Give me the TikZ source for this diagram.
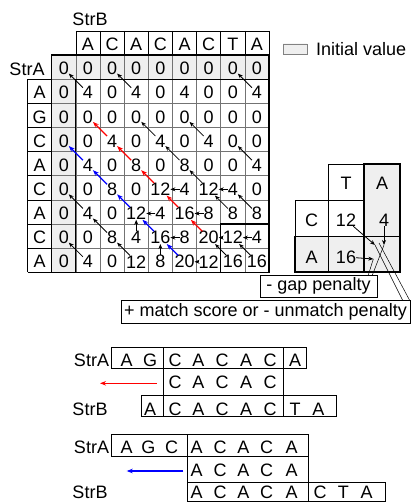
\documentclass[tikz,border=0pt]{standalone}
\usepackage{fontspec}
\setmainfont{Liberation Sans}
\usetikzlibrary{arrows.meta,patterns}
\pgfdeclarepatternformonly{fdots}{\pgfpoint{-0.5pt}{-0.5pt}}{\pgfpoint{0.5pt}{0.5pt}}{\pgfpoint{2pt}{2pt}}{\pgfpathcircle{\pgfpointorigin}{0.45pt}\pgfusepath{fill}}
\begin{document}
\begin{tikzpicture}[x=1pt,y=-1pt,font=\fontsize{18}{21}\selectfont,
  num/.style={inner sep=0pt,outer sep=0pt},
  gridl/.style={draw=black!55,line width=0.6pt},
  thinb/.style={draw=black,line width=0.6pt},
  thickb/.style={draw=black,line width=1.4pt},
  shade/.style={fill=black!3,postaction={pattern=fdots,pattern color=black!40}},
  tb/.style={-{Stealth[length=5pt,width=4pt]},line width=0.8pt},
  redar/.style={-{Stealth[length=6pt,width=4.5pt]},draw=red,line width=1.3pt},
  bluar/.style={-{Stealth[length=6pt,width=4.5pt]},draw=blue,line width=1.3pt},
  abox/.style={draw=black,line width=0.7pt},
  callout/.style={draw=black,line width=0.5pt}]
\useasboundingbox (0,0) rectangle (411,502);
\def\mX{51.7}\def\mY{55}\def\mC{24.15}
% shaded initial values
\path[shade] (\mX,\mY) rectangle ({\mX+9*\mC},{\mY+\mC});
\path[shade] (\mX,{\mY+\mC}) rectangle ({\mX+\mC},{\mY+9*\mC});
% grid
\foreach \k in {1,...,8} {
  \draw[gridl] ({\mX+\k*\mC},\mY) -- ({\mX+\k*\mC},{\mY+9*\mC});
  \draw[gridl] (\mX,{\mY+\k*\mC}) -- ({\mX+9*\mC},{\mY+\k*\mC});
}
% header cells
\foreach \k in {1,...,9} \draw[thinb] ({\mX+\k*\mC},{\mY-\mC}) -- ({\mX+\k*\mC},\mY);
\draw[thinb] ({\mX+\mC},{\mY-\mC}) -- ({\mX+9*\mC},{\mY-\mC});
% row label cells
\draw[thinb] ({\mX-\mC},{\mY+\mC}) -- ({\mX-\mC},{\mY+9*\mC});
\foreach \k in {1,...,9} \draw[thinb] ({\mX-\mC},{\mY+\k*\mC}) -- (\mX,{\mY+\k*\mC});
% borders
\draw[thinb,line width=1pt] ({\mX+\mC},{\mY+9*\mC}) -- ({\mX+\mC},{\mY+\mC}) -- ({\mX+9*\mC},{\mY+\mC});
\draw[thickb] (\mX,\mY) rectangle ({\mX+9*\mC},{\mY+9*\mC});
\draw[thickb] ({\mX+7*\mC},{\mY+7*\mC}) rectangle ({\mX+9*\mC},{\mY+9*\mC});
% labels
\node[num,anchor=base] (strb) at (90,26) {StrB};
\node[num,anchor=base] (stra) at (27,76) {StrA};
\foreach \l [count=\j from 1] in {A,C,A,C,A,C,T,A}
  \node[num] (h-\j) at ({\mX+(\j+0.5)*\mC},{\mY-0.5*\mC+1.5}) {\l};
\foreach \l [count=\i from 1] in {A,G,C,A,C,A,C,A}
  \node[num] (r-\i) at ({\mX-0.5*\mC},{\mY+(\i+0.5)*\mC+1.5}) {\l};
% values
\foreach \r [count=\i from 0] in {{0,0,0,0,0,0,0,0,0},{0,4,0,4,0,4,0,0,4},{0,0,0,0,0,0,0,0,0},{0,0,4,0,4,0,4,0,0},{0,4,0,8,0,8,0,0,4},{0,0,8,0,12,4,12,4,0},{0,4,0,12,4,16,8,8,8},{0,0,8,4,16,8,20,12,4},{0,4,0,12,8,20,12,16,16}}
  \foreach \v [count=\j from 0] in \r
    \node[num] (m-\i-\j) at ({\mX+(\j+0.5)*\mC},{\mY+(\i+0.5)*\mC+1.5}) {\v};
% arrows
\foreach \ia/\ja/\ib/\jb in {1/1/0/0,1/3/0/2,1/8/0/7,3/4/2/3,3/6/2/5,4/5/3/4,4/8/3/7,5/6/4/5,6/1/5/0,6/7/5/6,6/8/5/7,7/2/6/1,8/1/7/0,8/3/7/2,8/7/7/6,8/8/7/7,
  5/5/5/4,5/7/5/6,6/4/6/3,6/6/6/5,7/5/7/4,7/7/7/6,7/8/7/7,8/6/8/5,7/3/6/3,8/4/7/4}
  \draw[tb] (m-\ia-\ja) -- (m-\ib-\jb);
\foreach \ia/\ja/\ib/\jb in {7/6/6/5,6/5/5/4,5/4/4/3,4/3/3/2,3/2/2/1}
  \draw[redar] (m-\ia-\ja) -- (m-\ib-\jb);
\foreach \ia/\ja/\ib/\jb in {8/5/7/4,7/4/6/3,6/3/5/2,5/2/4/1,4/1/3/0}
  \draw[bluar] (m-\ia-\ja) -- (m-\ib-\jb);
% legend
\node[shade,draw=black!50,line width=0.5pt,minimum width=24pt,minimum height=10pt,inner sep=0pt] (legbox) at (295,49) {};
\node[num,anchor=west] (legtext) at (316,49.5) {Initial value};
% mini table
\path[shade] (364,164) rectangle (400,236.5);
\path[shade] (295,236.5) rectangle (400,272);
\draw[thinb] (328,164) rectangle (364,200);
\draw[thinb] (295,200) rectangle (364,272);
\draw[thinb] (328,200) -- (328,272);
\draw[thinb] (295,236.5) -- (364,236.5);
\draw[thickb] (364,164) rectangle (400,272);
\draw[thickb] (295,236.5) rectangle (400,272);
\node[num] (t-T) at (346,183.5) {T};
\node[num] (t-A) at (382,183.5) {A};
\node[num] (t-C) at (311.5,220) {C};
\node[num] (t-12) at (346,220) {12};
\node[num] (t-4) at (384,220) {4};
\node[num] (t-A2) at (311.5,257) {A};
\node[num] (t-16) at (346,257) {16};
\coordinate (e-d) at (375,245);
\coordinate (e-v) at (384,245);
\coordinate (e-h) at (373.3,259);
\draw[tb] (t-12) -- (e-d);
\draw[tb] (t-4) -- (e-v);
\draw[tb] (t-16) -- (e-h);
% callouts
\coordinate (g1) at (368,276);
\coordinate (g2) at (372,276);
\coordinate (c1) at (403,301);
\coordinate (c2) at (410,301);
\draw[callout] (g1) -- (e-h);
\draw[callout] (g2) -- (e-v);
\draw[callout] (c1) -- (e-d);
\draw[callout] (c2) -- (379,243);
\node[draw,fill=white,line width=0.7pt,minimum width=117pt,minimum height=22pt,inner sep=0pt] (gap) at (318.5,286) {- gap penalty};
\node[draw,fill=white,line width=0.7pt,minimum width=289pt,minimum height=23pt,inner sep=0pt] (match) at (265.5,311.5) {+ match score or - unmatch penalty};
% alignment 1
\node[num,anchor=base] (a1-lab) at (91.5,366.7) {StrA};
\draw[abox] (111.7,347.3) rectangle (306.7,368.3);
\draw[abox] (163.3,347.3) -- (163.3,368.3);
\draw[abox] (283.3,347.3) -- (283.3,368.3);
\foreach \x/\l [count=\k] in {126.7/A,150/G,175/C,198.3/A,222/C,246/A,270/C,295/A}
  \node[num,anchor=base] (a1-\k) at (\x,366.7) {\l};
\draw[abox] (163.3,368.3) rectangle (283.3,395);
\foreach \x/\l [count=\k] in {175/C,198.3/A,222/C,246/A,270/C}
  \node[num,anchor=base] (m1-\k) at (\x,388.3) {\l};
\coordinate (ra-s) at (156.7,383.3);
\coordinate (ra-e) at (100,383.3);
\draw[redar] (ra-s) -- (ra-e);
\node[num,anchor=base] (b1-lab) at (90,415) {StrB};
\draw[abox] (141.7,395) rectangle (336.7,416.7);
\draw[abox] (163.3,395) -- (163.3,416.7);
\draw[abox] (283.3,395) -- (283.3,416.7);
\foreach \x/\l [count=\k] in {150/A,175/C,198.3/A,222/C,246/A,270/C,295/T,318.3/A}
  \node[num,anchor=base] (b1-\k) at (\x,415) {\l};
% alignment 2
\node[num,anchor=base] (a2-lab) at (91.5,453.3) {StrA};
\draw[abox] (111.7,434.3) rectangle (308.3,456);
\draw[abox] (187.7,434.3) -- (187.7,456);
\foreach \x/\l [count=\k] in {126.7/A,148.3/G,171.7/C,196.7/A,220/C,243.3/A,266.7/C,291.7/A}
  \node[num,anchor=base] (a2-\k) at (\x,453.3) {\l};
\draw[abox] (187.7,456) rectangle (308.3,482.7);
\foreach \x/\l [count=\k] in {196.7/A,220/C,243.3/A,266.7/C,291.7/A}
  \node[num,anchor=base] (m2-\k) at (\x,476.7) {\l};
\coordinate (ba-s) at (183.3,471);
\coordinate (ba-e) at (126.7,471);
\draw[bluar] (ba-s) -- (ba-e);
\node[num,anchor=base] (b2-lab) at (90,498.3) {StrB};
\draw[abox] (187.7,482.7) rectangle (385,501.5);
\draw[abox] (308.3,482.7) -- (308.3,501.5);
\foreach \x/\l [count=\k] in {196.7/A,220/C,243.3/A,266.7/C,291.7/A,320/C,343.3/T,366.7/A}
  \node[num,anchor=base] (b2-\k) at (\x,498.3) {\l};
\end{tikzpicture}
\end{document}
